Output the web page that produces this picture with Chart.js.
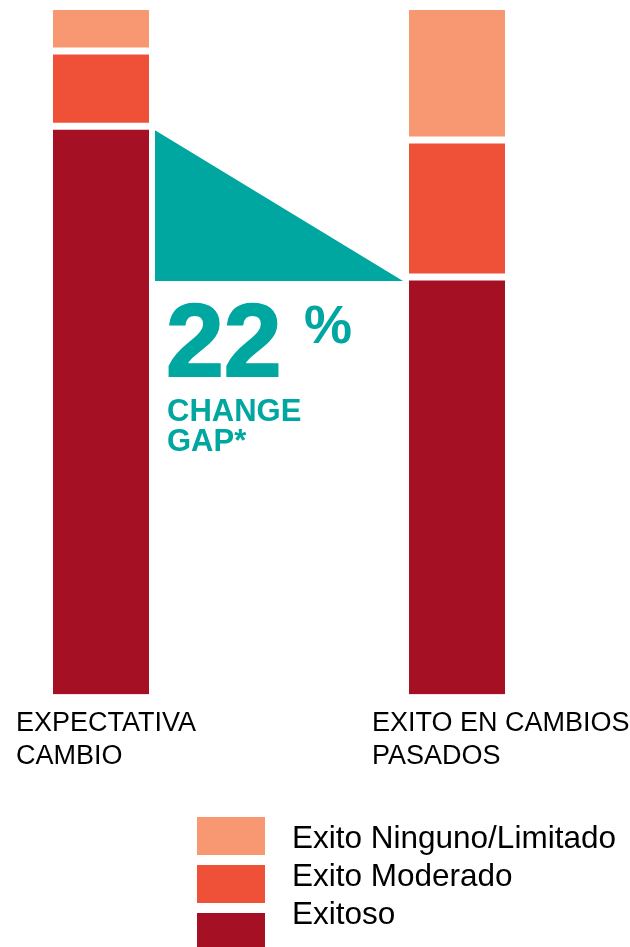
<!DOCTYPE html>
<html lang="es">
<head>
<meta charset="utf-8">
<title>Change gap</title>
<script src="https://cdn.jsdelivr.net/npm/chart.js@4.4.1/dist/chart.umd.min.js"></script>
<style>
    html, body { margin: 0; padding: 0; background: #ffffff; }
    #contenedor { position: relative; width: 630px; height: 947px; }
</style>
</head>
<body>
<div id="contenedor">
    <canvas id="cambioChart"></canvas>
</div>
<script>
// Datos del grafico (la categoria del medio queda vacia como separador)
const categorias = [['EXPECTATIVA', 'CAMBIO'], '', ['EXITO EN CAMBIOS', 'PASADOS']];
const exitoso = [83, null, 61];
const moderado = [11, null, 20];
const ninguno = [6, null, 19];
const nombresSeries = ['Exitoso', 'Exito Moderado', 'Exito Ninguno/Limitado'];

const colores = {
    exitoso: '#a61024',
    moderado: '#ef5138',
    ninguno: '#f79872',
    gap: '#00a6a0'
};
const fuente = "'Liberation Sans', Arial, sans-serif";

// Dibuja el triangulo y el texto del "change gap"
const gapPlugin = {
    id: 'gapPlugin',
    afterDatasetsDraw(chart) {
        const ctx = chart.ctx;
        const y = chart.scales.y;
        const barra1 = chart.getDatasetMeta(0).data[0];
        const barra2 = chart.getDatasetMeta(0).data[2];

        const x1 = barra1.x + barra1.width / 2 + 6;
        const x2 = barra2.x - barra2.width / 2 - 6;
        const yTop = y.getPixelForValue(exitoso[0]) + 4;
        const yBottom = y.getPixelForValue(exitoso[2]) + 4;

        ctx.save();
        ctx.fillStyle = colores.gap;
        ctx.beginPath();
        ctx.moveTo(x1, yTop);
        ctx.lineTo(x1, yBottom);
        ctx.lineTo(x2, yBottom);
        ctx.closePath();
        ctx.fill();

        // Texto del porcentaje
        const diferencia = exitoso[0] - exitoso[2];
        ctx.textBaseline = 'alphabetic';
        ctx.textAlign = 'left';
        ctx.strokeStyle = colores.gap;
        ctx.lineWidth = 2;
        ctx.font = 'bold 104px ' + fuente;
        ctx.fillText(String(diferencia), x1 + 11, yBottom + 95);
        ctx.strokeText(String(diferencia), x1 + 11, yBottom + 95);

        ctx.font = 'bold 54px ' + fuente;
        ctx.fillText('%', x1 + 149, yBottom + 62);

        ctx.font = 'bold 31px ' + fuente;
        ctx.fillText('CHANGE', x1 + 12, yBottom + 140);
        ctx.fillText('GAP*', x1 + 12, yBottom + 170);
        ctx.restore();
    }
};

// Leyenda propia (cuadros y textos con espaciado distinto)
const leyendaPlugin = {
    id: 'leyendaPlugin',
    afterDraw(chart) {
        const ctx = chart.ctx;
        const datasets = chart.data.datasets.slice().reverse();
        ctx.save();
        ctx.textAlign = 'left';
        ctx.textBaseline = 'alphabetic';
        ctx.font = '31.5px ' + fuente;
        datasets.forEach((ds, i) => {
            ctx.fillStyle = ds.backgroundColor;
            ctx.fillRect(197, 817 + i * 48, 68, 38);
            ctx.fillStyle = '#000000';
            ctx.fillText(ds.label, 292, 848 + i * 38);
        });
        ctx.restore();
    }
};

function crearGrafico() {
    const canvas = document.getElementById('cambioChart');
    const ctx = canvas.getContext('2d');

    const chartData = {
        labels: categorias,
        datasets: [{
            label: nombresSeries[0],
            data: exitoso,
            backgroundColor: colores.exitoso,
            borderColor: '#ffffff',
            borderWidth: { top: 3.5, bottom: 0, left: 0, right: 0 }
        }, {
            label: nombresSeries[1],
            data: moderado,
            backgroundColor: colores.moderado,
            borderColor: '#ffffff',
            borderWidth: { top: 3.5, bottom: 3.5, left: 0, right: 0 }
        }, {
            label: nombresSeries[2],
            data: ninguno,
            backgroundColor: colores.ninguno,
            borderColor: '#ffffff',
            borderWidth: { top: 0, bottom: 3.5, left: 0, right: 0 }
        }]
    };

    const options = {
        responsive: true,
        maintainAspectRatio: false,
        animation: false,
        layout: {
            padding: { top: 10, bottom: 162.5, left: 12, right: 84 }
        },
        datasets: {
            bar: {
                barThickness: 96,
                borderSkipped: false,
                inflateAmount: 0
            }
        },
        plugins: {
            legend: { display: false },
            tooltip: { enabled: false }
        },
        scales: {
            x: {
                stacked: true,
                grid: { display: false, drawTicks: false },
                border: { display: false },
                afterFit: function(scale) {
                    scale.height = 90;
                    scale.paddingLeft = 0;
                    scale.paddingRight = 0;
                },
                ticks: {
                    color: '#000000',
                    font: { family: fuente, size: 27 },
                    lineHeight: 1.15,
                    align: 'start',
                    labelOffset: -85,
                    padding: 13,
                    maxRotation: 0,
                    autoSkip: false
                }
            },
            y: {
                stacked: true,
                display: false,
                min: 0,
                max: 100
            }
        }
    };

    window.cambioChart = new Chart(ctx, {
        type: 'bar',
        data: chartData,
        options: options,
        plugins: [gapPlugin, leyendaPlugin]
    });
}

document.addEventListener('DOMContentLoaded', crearGrafico);
</script>
</body>
</html>
